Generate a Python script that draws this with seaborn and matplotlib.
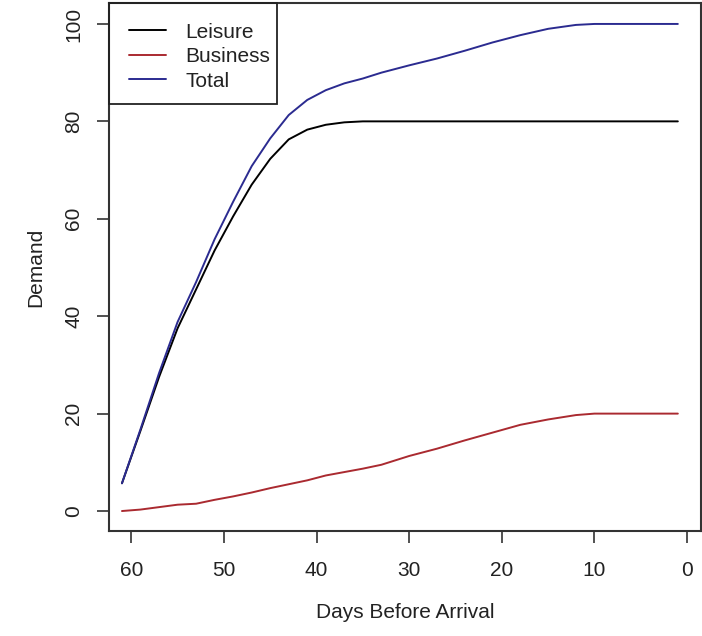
import pandas as pd
import matplotlib.pyplot as plt
import seaborn as sns
from matplotlib.patches import Rectangle

# values (days before arrival -> demand)
days = [61, 59, 57, 55, 53, 51, 49, 47, 45, 43, 41, 39, 37, 35, 33, 30, 27, 24, 21, 18, 15, 12, 10, 7, 4, 1]
leisure = [5.7, 16.5, 27.5, 37.5, 45.5, 53.5, 60.5, 67.0, 72.3, 76.3, 78.3, 79.3, 79.8, 80.0, 80.0,
           80.0, 80.0, 80.0, 80.0, 80.0, 80.0, 80.0, 80.0, 80.0, 80.0, 80.0]
business = [0.0, 0.3, 0.8, 1.3, 1.5, 2.3, 3.0, 3.8, 4.7, 5.5, 6.3, 7.3, 8.0, 8.7, 9.5,
            11.3, 12.8, 14.5, 16.1, 17.7, 18.8, 19.7, 20.0, 20.0, 20.0, 20.0]
total = [5.7, 16.8, 28.3, 38.8, 47.0, 55.8, 63.5, 70.8, 76.5, 81.3, 84.4, 86.4, 87.8, 88.8, 90.0,
         91.5, 92.9, 94.5, 96.2, 97.7, 99.0, 99.8, 100.0, 100.0, 100.0, 100.0]

series = ["Leisure", "Business", "Total"]
colors = {"Leisure": "black", "Business": "#aa2a30", "Total": "#2b2b90"}

df = pd.concat([
    pd.DataFrame({"days": days, "demand": leisure, "series": "Leisure"}),
    pd.DataFrame({"days": days, "demand": business, "series": "Business"}),
    pd.DataFrame({"days": days, "demand": total, "series": "Total"}),
])

sns.set_theme(style="ticks")
plt.rcParams["font.family"] = ["Liberation Sans", "DejaVu Sans"]

fig = plt.figure(figsize=(7.02, 6.36), dpi=100)
ax = fig.add_axes([109/702, 1 - 531/636, 592/702, 528/636])

sns.lineplot(data=df, x="days", y="demand", hue="series", hue_order=series,
             palette=colors, linewidth=1.4, ax=ax)

ax.set_xlim(62.4, -1.5)
ax.set_ylim(-4.1, 104.3)
ax.set_xticks([60, 50, 40, 30, 20, 10, 0])
ax.set_yticks([0, 20, 40, 60, 80, 100])
ax.set_yticklabels(["0", "20", "40", "60", "80", "100"], rotation=90, va="center")
ax.tick_params(axis="both", labelsize=15, length=8.5, width=1.2, color="#333333", colors="#222222")
ax.tick_params(axis="x", pad=13)
ax.tick_params(axis="y", pad=10)

for s in ax.spines.values():
    s.set_visible(True)
    s.set_color("#333333")
    s.set_linewidth(1.5)

ax.set_xlabel("Days Before Arrival", fontsize=15, color="#222222", labelpad=17)
ax.set_ylabel("Demand", fontsize=15, color="#222222", labelpad=14)

handles, labels = ax.get_legend_handles_labels()
leg = ax.legend(handles, labels, loc="upper left", bbox_to_anchor=(0, 1), borderaxespad=0,
                fontsize=15, frameon=False,
                handlelength=1.8, handletextpad=0.9, labelspacing=0.26, borderpad=0.95)
for t in leg.get_texts():
    t.set_color("#222222")

# R-style legend box, tighter on the right than on the left
ax.add_patch(Rectangle((0, 0.809), 0.284, 0.191, transform=ax.transAxes, fill=False,
                       edgecolor="#222222", linewidth=1.3, zorder=5, clip_on=False))

fig.savefig("out.png", dpi=100, facecolor="white")
